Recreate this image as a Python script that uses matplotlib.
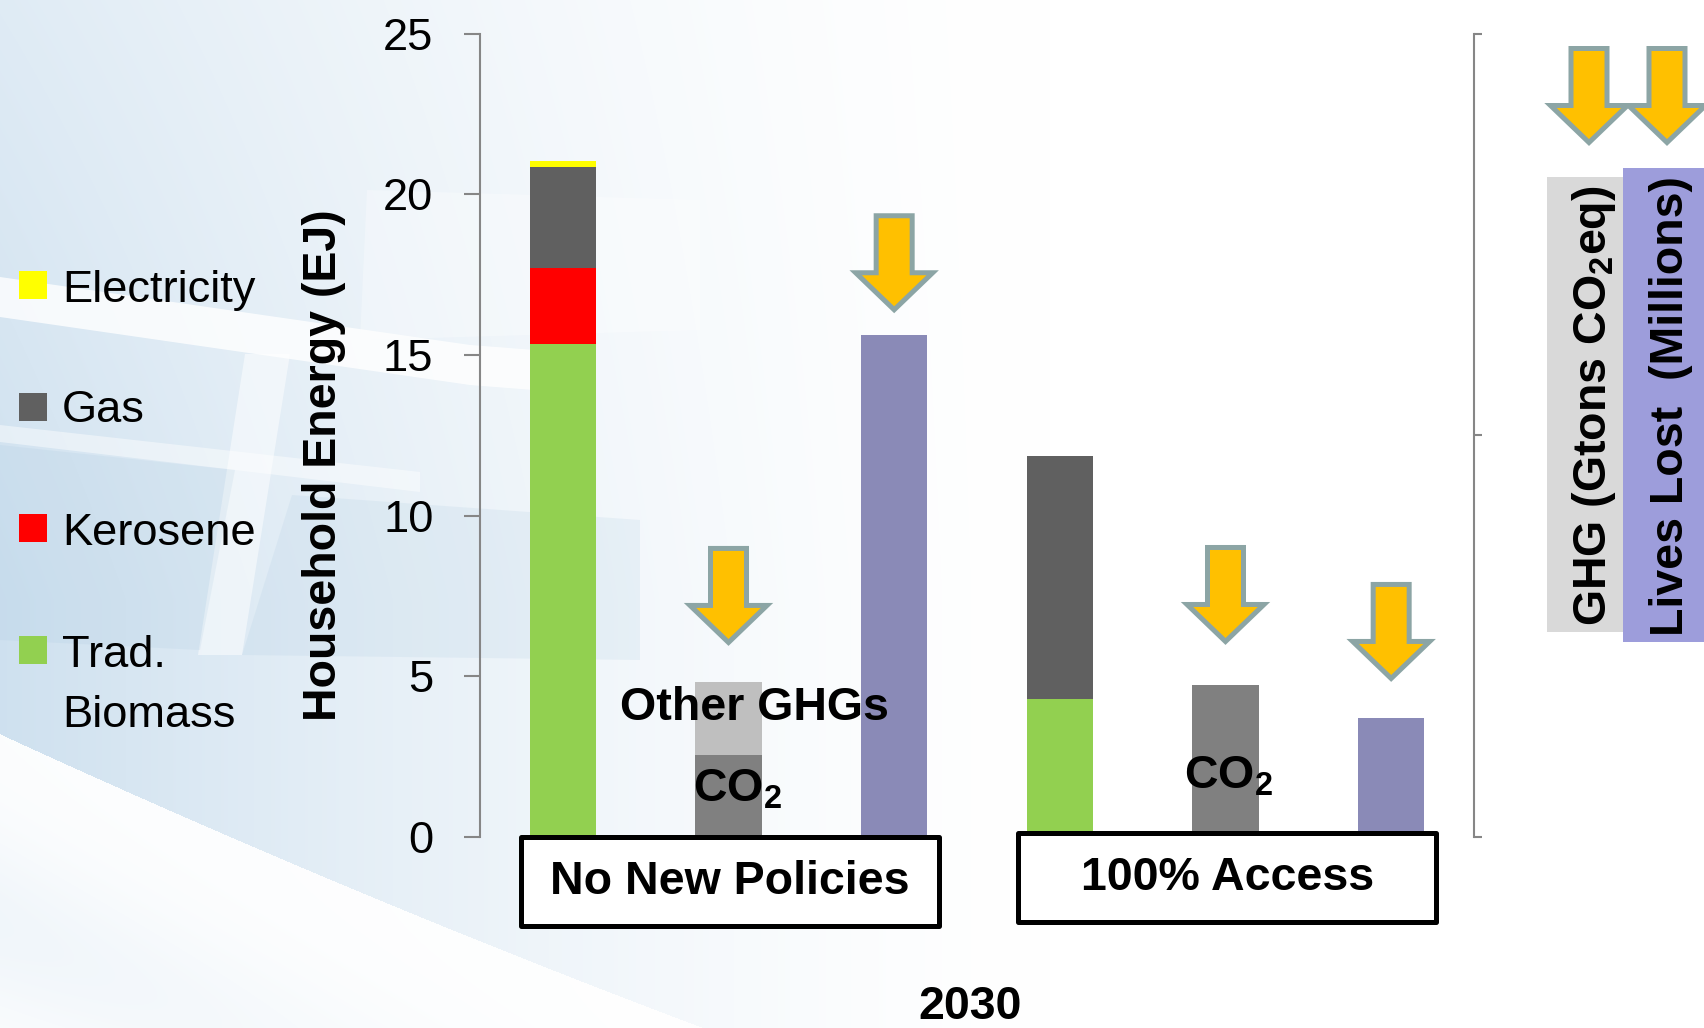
import numpy as np
import matplotlib.pyplot as plt
from matplotlib import font_manager
from matplotlib.patches import Rectangle, Polygon
from matplotlib.transforms import IdentityTransform

W, H, DPI = 1704, 1028, 100

# household energy in 2030 (EJ), stacked bottom to top
fuels = ["Trad.\nBiomass", "Kerosene", "Gas", "Electricity"]
fuel_colors = ["#92d050", "#ff0000", "#606060", "#ffff00"]
energy_no_new_policies = [15.35, 2.35, 3.15, 0.18]
energy_full_access = [4.3, 0.0, 7.55, 0.0]

# greenhouse gases (Gt CO2eq) and lives lost (millions) per scenario
ghg_co2 = [2.55, 4.73]
ghg_other = [2.28, 0.0]
lives_lost = [15.63, 3.72]

scenarios = ["No New Policies", "100% Access"]
year = "2030"

# reduction arrows: bar slot and tip height
arrow_slots = [1, 2, 4, 5]
arrow_tips = [5.95, 16.3, 5.98, 4.83]

names = {f.name for f in font_manager.fontManager.ttflist}
NARROW = "Liberation Sans Narrow" if "Liberation Sans Narrow" in names else "Liberation Sans"
K = 1.0 if NARROW == "Liberation Sans Narrow" else 0.88

plt.rcParams["font.family"] = [NARROW, "DejaVu Sans"]
plt.rcParams["mathtext.fontset"] = "custom"
for key in ("rm", "it", "bf"):
    plt.rcParams["mathtext." + key] = NARROW + ":bold"

SPINE = "#868686"
BAR_W = 0.40


def fx(x):
    return x / W


def fy(y):
    return 1 - y / H


fig = plt.figure(figsize=(W / DPI, H / DPI), dpi=DPI)

# --- pale blue backdrop on the left ---
bg = fig.add_axes([0, 0, 1, 1], zorder=-10)
yy, xx = np.mgrid[0:H, 0:W].astype(float)
fade = np.clip(1 - xx / 1050, 0, 1) ** 1.5
arc1 = 734 + 0.46 * xx - 0.00006 * xx ** 2
d = yy - arc1
upper = fade * (0.62 + 0.33 * np.clip(yy / 600, 0, 1))
band = fade * (0.06 + 0.22 * np.exp(-((d - 190) / 90) ** 2))
s = np.where(d < 0, upper, band)
blue = np.array([0.80, 0.875, 0.935])
rgb = 1 - s[..., None] * (1 - blue)
bg.imshow(rgb, extent=(0, W, H, 0), aspect="auto", interpolation="bilinear")
bg.set_xlim(0, W)
bg.set_ylim(H, 0)
bg.axis("off")
for pts, a in [
    ([(0, 277), (0, 317), (470, 385), (560, 392), (560, 352), (470, 345)], 0.8),
    ([(0, 425), (0, 442), (420, 492), (420, 472)], 0.45),
    ([(245, 354), (290, 354), (242, 655), (198, 655)], 0.5),
    ([(367, 190), (700, 200), (700, 330), (360, 340)], 0.3),
]:
    bg.add_patch(Polygon(pts, closed=True, facecolor="white", edgecolor="none", alpha=a))
for pts in [
    [(0, 445), (235, 470), (200, 650), (0, 640)],
    [(292, 495), (640, 520), (640, 660), (242, 655)],
]:
    bg.add_patch(Polygon(pts, closed=True, facecolor="#9fc2dc", edgecolor="none", alpha=0.15))

# --- main chart ---
ax = fig.add_axes([fx(480), 190.8 / H, 994 / W, 803.6 / H], facecolor="none")
ax.set_xlim(-0.5, 5.5)
ax.set_ylim(0, 25)

for sc, energy in enumerate([energy_no_new_policies, energy_full_access]):
    bottom = 0
    for val, col in zip(energy, fuel_colors):
        ax.bar(3 * sc, val, BAR_W, bottom=bottom, color=col, zorder=2)
        bottom += val
    ax.bar(3 * sc + 1, ghg_co2[sc], BAR_W, color="#808080", zorder=2)
    ax.bar(3 * sc + 1, ghg_other[sc], BAR_W, bottom=ghg_co2[sc], color="#bfbfbf", zorder=2)
    ax.bar(3 * sc + 2, lives_lost[sc], BAR_W, color="#8a8ab7", zorder=2)

ax.set_yticks([0, 5, 10, 15, 20, 25])
ax.tick_params(axis="y", length=11.5, width=1.5, color=SPINE, pad=22,
               labelsize=37 * K)
ax.set_xticks([])
for side in ("top", "right", "bottom"):
    ax.spines[side].set_visible(False)
ax.spines["left"].set_color(SPINE)
ax.spines["left"].set_linewidth(1.5)

ax2 = ax.twinx()
ax2.set_ylim(0, 2)
ax2.set_yticks([0, 1, 2])
ax2.set_yticklabels([])
ax2.tick_params(axis="y", length=6, width=1.5, color=SPINE)
for side in ("top", "left", "bottom"):
    ax2.spines[side].set_visible(False)
ax2.spines["right"].set_color(SPINE)
ax2.spines["right"].set_linewidth(1.5)

bold = dict(fontweight="bold", fontsize=38 * K, color="black")
ax.text(1.157, 3.65, "Other GHGs", ha="center", va="baseline", zorder=5, **bold)
ax.text(1.054, 1.10, "CO$_2$", ha="center", va="baseline", zorder=5, **bold)
ax.text(4.02, 1.53, "CO$_2$", ha="center", va="baseline", zorder=5, **bold)

# scenario boxes under each group
box_tops = [0.0, 0.13]
for sc, name in enumerate(scenarios):
    cx = 3 * sc + 1.01
    top = box_tops[sc]
    ax.add_patch(Rectangle((cx - 1.26, top - 2.77), 2.52, 2.77, facecolor="white",
                           edgecolor="black", linewidth=3.6, joinstyle="round",
                           clip_on=False, zorder=4))
    ax.text(cx, top - 1.385, name, ha="center", va="center", clip_on=False,
            zorder=5, **bold)


def arrow_at(x_disp, y_disp):
    # block arrow pointing down, tip at (x_disp, y_disp) in pixels
    hw, sw, hh, tot = 38.5, 18, 37, 94
    pts = [(0, 0), (-hw, hh), (-sw, hh), (-sw, tot), (sw, tot), (sw, hh), (hw, hh)]
    pts = [(x_disp + px, y_disp + py) for px, py in pts]
    fig.add_artist(Polygon(pts, closed=True, facecolor="#ffc000", edgecolor="#8ca5a5",
                           linewidth=3.6, joinstyle="miter",
                           transform=IdentityTransform(), zorder=6))


for slot, tip in zip(arrow_slots, arrow_tips):
    xd, yd = ax.transData.transform((slot, tip))
    arrow_at(xd, yd + 3.5)

# --- axis titles ---
fig.text(fx(324), fy(465), "Household Energy (EJ)", rotation=90, ha="center",
         va="center", **bold)
fig.text(fx(970), fy(1019), year, ha="center", va="baseline", **bold)

# --- right-hand key for the GHG and lives lost bars ---
fig.add_artist(Rectangle((fx(1547), fy(632)), (1623 - 1547) / W, (632 - 177) / H,
                         transform=fig.transFigure, facecolor="#d9d9d9",
                         edgecolor="none", zorder=3))
fig.add_artist(Rectangle((fx(1623), fy(642)), (1704 - 1623) / W, (642 - 168) / H,
                         transform=fig.transFigure, facecolor="#9d9ddb",
                         edgecolor="none", zorder=3))
fig.text(fx(1594), fy(406), "GHG (Gtons CO$_2$eq)", rotation=90, ha="center",
         va="center", zorder=5, **bold)
fig.text(fx(1671), fy(406), "Lives Lost  (Millions)", rotation=90, ha="center",
         va="center", zorder=5, **bold)
for cx in (1589, 1667):
    arrow_at(cx, H - 142.5)

# --- fuel legend ---
leg_rows = [("Electricity", "#ffff00", 285, 302),
            ("Gas", "#606060", 407, 422),
            ("Kerosene", "#ff0000", 528, 545),
            ("Trad.\nBiomass", "#92d050", 650, 667)]
for label, col, yc, base in leg_rows:
    fig.add_artist(Rectangle((fx(19), fy(yc + 14)), 28 / W, 28 / H,
                             transform=fig.transFigure, facecolor=col,
                             edgecolor="none"))
    for i, line in enumerate(label.split("\n")):
        fig.text(fx(62), fy(base + 60 * i), line, ha="left", va="baseline",
                 fontsize=37 * K, color="black")

fig.savefig("out.png", dpi=DPI)
